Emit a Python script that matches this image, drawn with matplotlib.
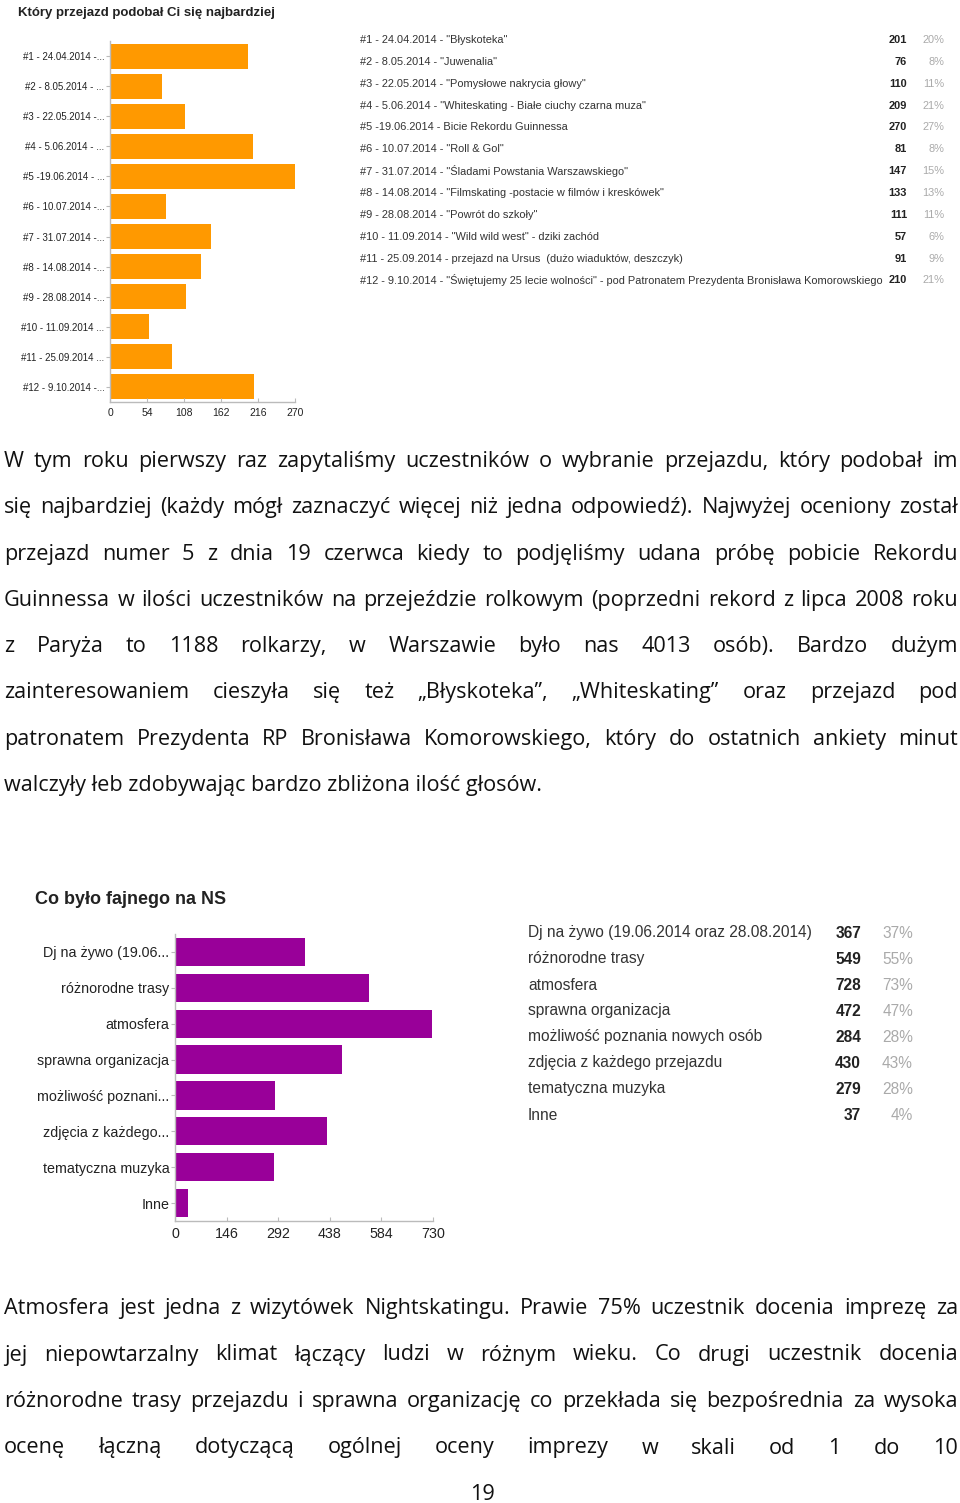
import matplotlib
matplotlib.use('Agg')
import matplotlib.pyplot as plt

W, H = 960, 1503

# ---------------- dane: wykres 1 ----------------
ride_ticks = ['#1 - 24.04.2014 -...', '#2 - 8.05.2014 - ...', '#3 - 22.05.2014 -...',
              '#4 - 5.06.2014 - ...', '#5 -19.06.2014 - ...', '#6 - 10.07.2014 -...',
              '#7 - 31.07.2014 -...', '#8 - 14.08.2014 -...', '#9 - 28.08.2014 -...',
              '#10 - 11.09.2014 ...', '#11 - 25.09.2014 ...', '#12 - 9.10.2014 -...']
ride_names = ['#1 - 24.04.2014 - "Błyskoteka"',
              '#2 - 8.05.2014 - "Juwenalia"',
              '#3 - 22.05.2014 - "Pomysłowe nakrycia głowy"',
              '#4 - 5.06.2014 - "Whiteskating - Białe ciuchy czarna muza"',
              '#5 -19.06.2014 - Bicie Rekordu Guinnessa',
              '#6 - 10.07.2014 - "Roll & Gol"',
              '#7 - 31.07.2014 - "Śladami Powstania Warszawskiego"',
              '#8 - 14.08.2014 - "Filmskating -postacie w filmów i kreskówek"',
              '#9 - 28.08.2014 - "Powrót do szkoły"',
              '#10 - 11.09.2014 - "Wild wild west" - dziki zachód',
              '#11 - 25.09.2014 - przejazd na Ursus  (dużo wiaduktów, deszczyk)',
              '#12 - 9.10.2014 - "Świętujemy 25 lecie wolności" - pod Patronatem Prezydenta Bronisława Komorowskiego']
ride_votes = [201, 76, 110, 209, 270, 81, 147, 133, 111, 57, 91, 210]
ride_pct = ['20%', '8%', '11%', '21%', '27%', '8%', '15%', '13%', '11%', '6%', '9%', '21%']
ride_xticks = [0, 54, 108, 162, 216, 270]

# ---------------- dane: wykres 2 ----------------
fun_ticks = ['Dj na żywo (19.06...', 'różnorodne trasy', 'atmosfera', 'sprawna organizacja',
             'możliwość poznani...', 'zdjęcia z każdego...', 'tematyczna muzyka', 'Inne']
fun_names = ['Dj na żywo (19.06.2014 oraz 28.08.2014)', 'różnorodne trasy', 'atmosfera',
             'sprawna organizacja', 'możliwość poznania nowych osób', 'zdjęcia z każdego przejazdu',
             'tematyczna muzyka', 'Inne']
fun_votes = [367, 549, 728, 472, 284, 430, 279, 37]
fun_pct = ['37%', '55%', '73%', '47%', '28%', '43%', '28%', '4%']
fun_xticks = [0, 146, 292, 438, 584, 730]

# ---------------- tekst ----------------
para1 = ['W tym roku pierwszy raz zapytaliśmy uczestników o wybranie przejazdu, który podobał im',
         'się najbardziej (każdy mógł zaznaczyć więcej niż jedna odpowiedź). Najwyżej oceniony został',
         'przejazd numer 5 z dnia 19 czerwca kiedy to podjęliśmy udana próbę pobicie Rekordu',
         'Guinnessa w ilości uczestników na przejeździe rolkowym (poprzedni rekord z lipca 2008 roku',
         'z Paryża to 1188 rolkarzy, w Warszawie było nas 4013 osób). Bardzo dużym',
         'zainteresowaniem cieszyła się też „Błyskoteka”, „Whiteskating” oraz przejazd pod',
         'patronatem Prezydenta RP Bronisława Komorowskiego, który do ostatnich ankiety minut',
         'walczyły łeb zdobywając bardzo zbliżona ilość głosów.']
para2 = ['Atmosfera jest jedna z wizytówek Nightskatingu. Prawie 75% uczestnik docenia imprezę za',
         'jej niepowtarzalny klimat łączący ludzi w różnym wieku. Co drugi uczestnik docenia',
         'różnorodne trasy przejazdu i sprawna organizację co przekłada się bezpośrednia za wysoka',
         'ocenę łączną dotyczącą ogólnej oceny imprezy w skali od 1 do 10']

NARROW = ['Liberation Sans Narrow', 'Liberation Sans', 'DejaVu Sans']
ARIAL = ['Liberation Sans', 'DejaVu Sans']
BODY = ['Open Sans', 'DejaVu Sans']

fig = plt.figure(figsize=(W / 100, H / 100), dpi=100)
fig.patch.set_facecolor('white')


def px_axes(left, top, right, bottom):
    return fig.add_axes([left / W, 1 - bottom / H, (right - left) / W, (bottom - top) / H])


def style_axes(ax, labels, ticks, lab_size, tick_size, fam):
    n = len(labels)
    ax.set_ylim(n - 0.5, -0.5)
    ax.set_yticks(range(n))
    ax.set_yticklabels(labels, fontsize=lab_size, family=fam, color='#222222')
    ax.set_xlim(ticks[0], ticks[-1])
    ax.set_xticks(ticks)
    ax.set_xticklabels([str(t) for t in ticks], fontsize=tick_size, family=fam, color='#222222')
    for s in ['top', 'right']:
        ax.spines[s].set_visible(False)
    for s in ['left', 'bottom']:
        ax.spines[s].set_color('#bbbbbb')
        ax.spines[s].set_linewidth(1)
    ax.tick_params(axis='y', length=3, color='#bbbbbb', pad=1)
    ax.tick_params(axis='x', length=3, color='#bbbbbb', direction='in', pad=4)
    ax.set_facecolor('white')


# ---------------- wykres 1 ----------------
ax1 = px_axes(110, 41, 295, 402)
ax1.barh(range(len(ride_votes)), ride_votes, height=0.83, color='#ff9900')
style_axes(ax1, ride_ticks, ride_xticks, 7.0, 7.5, NARROW)
fig.text(18 / W, 1 - 13 / H, 'Który przejazd podobał Ci się najbardziej', fontsize=9.5,
         fontweight='bold', family=NARROW, color='#222222', va='center', ha='left')

for i in range(len(ride_names)):
    y = 1 - (40 + i * 21.85) / H
    fig.text(360 / W, y, ride_names[i], fontsize=7.9, family=NARROW, color='#333333', va='center')
    fig.text(907 / W, y, str(ride_votes[i]), fontsize=7.9, family=NARROW, fontweight='bold',
             color='#222222', va='center', ha='right')
    fig.text(944 / W, y, ride_pct[i], fontsize=7.9, family=NARROW, color='#aaaaaa',
             va='center', ha='right')

# ---------------- wykres 2 ----------------
ax2 = px_axes(175, 934, 433, 1221)
ax2.barh(range(len(fun_votes)), fun_votes, height=0.79, color='#990099')
style_axes(ax2, fun_ticks, fun_xticks, 10.3, 10.3, ARIAL)
fig.text(35 / W, 1 - 900 / H, 'Co było fajnego na NS', fontsize=13, fontweight='bold',
         family=ARIAL, color='#222222', va='center', ha='left')

for i in range(len(fun_names)):
    y = 1 - (933 + i * 26) / H
    fig.text(528 / W, y, fun_names[i], fontsize=11.2, family=ARIAL, color='#333333', va='center')
    fig.text(861 / W, y, str(fun_votes[i]), fontsize=11.2, family=ARIAL, fontweight='bold',
             color='#222222', va='center', ha='right')
    fig.text(913 / W, y, fun_pct[i], fontsize=11.2, family=ARIAL, color='#aaaaaa',
             va='center', ha='right')

# ---------------- akapity (wyjustowane) ----------------
renderer = fig.canvas.get_renderer()


def justify(lines, base0, dy, size, last_left):
    x0, x1 = 4, 958
    for i, line in enumerate(lines):
        y = 1 - (base0 + i * dy) / H
        if last_left and i == len(lines) - 1:
            fig.text(x0 / W, y, line, fontsize=size, family=BODY, color='#111111', va='baseline')
            continue
        words = line.split()
        ts = [fig.text(0, y, w, fontsize=size, family=BODY, color='#111111', va='baseline')
              for w in words]
        widths = [t.get_window_extent(renderer).width for t in ts]
        gap = (x1 - x0 - sum(widths)) / (len(words) - 1)
        x = x0
        for t, w in zip(ts, widths):
            t.set_x(x / W)
            x += w + gap


justify(para1, 467, 46.3, 15.6, True)
justify(para2, 1314, 46.5, 15.6, False)

fig.text(482 / W, 1 - 1500 / H, '19', fontsize=15.6, family=BODY, color='#111111',
         va='baseline', ha='center')

fig.savefig('out.png', dpi=100)
